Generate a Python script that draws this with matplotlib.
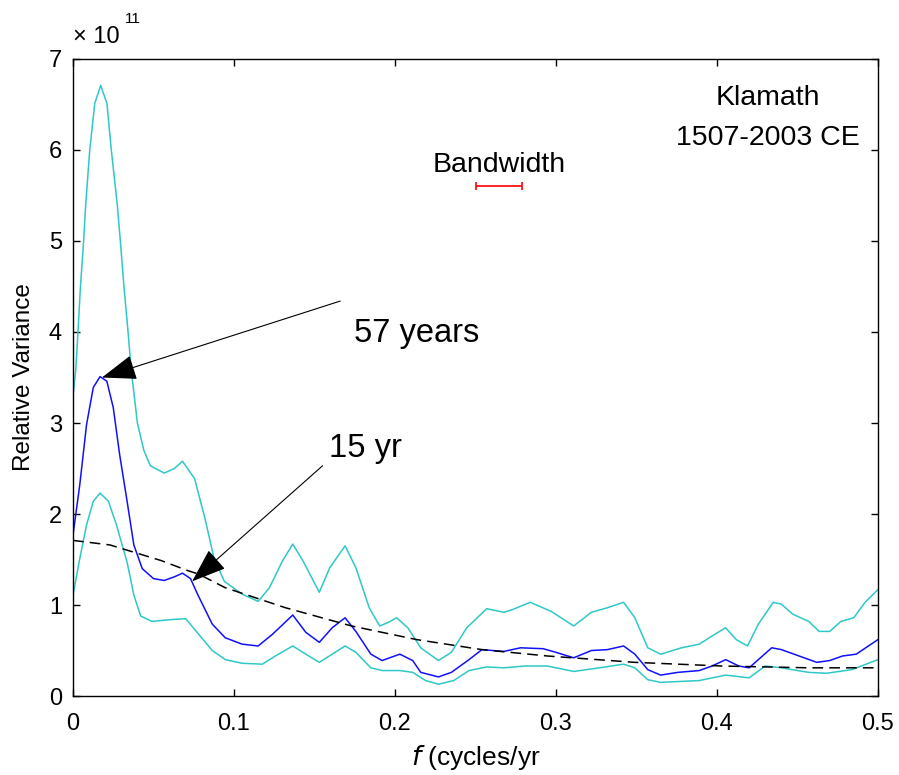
import numpy as np
import matplotlib
matplotlib.use("Agg")
import matplotlib.pyplot as plt

plt.rcParams['font.family'] = ['Liberation Sans', 'DejaVu Sans']

# Frequency (cycles/yr) and relative variance (units of 1e11)
f_upper = [0.000, 0.0017, 0.0031, 0.0046, 0.0066, 0.0079, 0.0104, 0.0135, 0.0172, 0.0211,
           0.0238, 0.0275, 0.0294, 0.0317, 0.0342, 0.0362, 0.040, 0.044, 0.048, 0.0567,
           0.063, 0.068, 0.0755, 0.082, 0.0875,
           0.094, 0.105, 0.115, 0.122, 0.130, 0.1365, 0.143, 0.153, 0.1595, 0.169,
           0.1757, 0.184, 0.1905, 0.196, 0.201, 0.208, 0.216, 0.227, 0.235, 0.2446,
           0.257, 0.2676, 0.273, 0.284, 0.297, 0.311, 0.322, 0.332, 0.342, 0.349,
           0.357, 0.365, 0.378, 0.389, 0.397, 0.4054, 0.412, 0.419, 0.4257, 0.435,
           0.440, 0.447, 0.457, 0.4635, 0.470, 0.477, 0.485, 0.492, 0.500]
v_upper = [3.30, 3.58, 4.0, 4.49, 5.0, 5.4, 6.0, 6.51, 6.71, 6.51,
           6.0, 5.4, 5.0, 4.49, 4.0, 3.58, 3.0, 2.70, 2.53, 2.45,
           2.50, 2.58, 2.39, 1.95, 1.52,
           1.26, 1.12, 1.04, 1.19, 1.48, 1.67, 1.48, 1.14, 1.41, 1.65,
           1.41, 0.97, 0.77, 0.81, 0.86, 0.75, 0.53, 0.39, 0.48, 0.75,
           0.96, 0.92, 0.95, 1.03, 0.93, 0.77, 0.92, 0.97, 1.03, 0.86,
           0.53, 0.46, 0.53, 0.57, 0.66, 0.75, 0.62, 0.55, 0.79, 1.03,
           1.01, 0.90, 0.82, 0.71, 0.71, 0.82, 0.86, 1.03, 1.17]

f_mid = [0.000, 0.0042, 0.0084, 0.0126, 0.0168, 0.021, 0.025, 0.029, 0.0336, 0.0378,
         0.043, 0.050, 0.0567, 0.063, 0.068, 0.073, 0.0776, 0.0865, 0.0946, 0.105,
         0.115, 0.124, 0.1365, 0.1446, 0.153, 0.161, 0.169, 0.1757, 0.185, 0.192,
         0.203, 0.211, 0.216, 0.227, 0.235, 0.246, 0.254, 0.2676, 0.278, 0.292,
         0.300, 0.311, 0.322, 0.332, 0.342, 0.349, 0.357, 0.365, 0.3757, 0.389,
         0.397, 0.4054, 0.4135, 0.420, 0.4257, 0.434, 0.440, 0.451, 0.462, 0.470,
         0.478, 0.4865, 0.500]
v_mid = [1.77, 2.32, 2.98, 3.39, 3.51, 3.46, 3.17, 2.65, 2.14, 1.66,
         1.40, 1.29, 1.27, 1.31, 1.35, 1.29, 1.11, 0.79, 0.64, 0.57,
         0.55, 0.68, 0.89, 0.70, 0.59, 0.75, 0.86, 0.71, 0.46, 0.39,
         0.46, 0.39, 0.26, 0.21, 0.26, 0.40, 0.51, 0.49, 0.53, 0.52,
         0.48, 0.42, 0.50, 0.51, 0.55, 0.46, 0.29, 0.23, 0.26, 0.28,
         0.33, 0.40, 0.33, 0.31, 0.40, 0.53, 0.51, 0.44, 0.37, 0.39,
         0.44, 0.46, 0.62]

f_lower = [0.000, 0.0042, 0.0084, 0.0126, 0.0168, 0.022, 0.027, 0.0336, 0.0378, 0.042,
           0.049, 0.061, 0.070, 0.078, 0.0865, 0.0946, 0.105, 0.1176, 0.1257, 0.1365,
           0.1446, 0.153, 0.161, 0.169, 0.1757, 0.185, 0.192, 0.203, 0.211, 0.219,
           0.227, 0.2365, 0.246, 0.257, 0.2676, 0.281, 0.2946, 0.311, 0.327, 0.342,
           0.349, 0.357, 0.365, 0.389, 0.4054, 0.420, 0.430, 0.440, 0.457, 0.468,
           0.4838, 0.500]
v_lower = [1.11, 1.51, 1.88, 2.14, 2.23, 2.14, 1.88, 1.47, 1.11, 0.88,
           0.82, 0.84, 0.85, 0.68, 0.50, 0.40, 0.36, 0.35, 0.44, 0.55,
           0.46, 0.37, 0.46, 0.55, 0.48, 0.31, 0.28, 0.28, 0.26, 0.17,
           0.13, 0.17, 0.28, 0.32, 0.31, 0.33, 0.33, 0.27, 0.31, 0.35,
           0.31, 0.18, 0.15, 0.17, 0.23, 0.20, 0.33, 0.31, 0.26, 0.25,
           0.29, 0.40]

f_null = [0.000, 0.023, 0.0545, 0.071, 0.078, 0.0946, 0.132, 0.173, 0.2135, 0.254,
          0.2946, 0.349, 0.4027, 0.457, 0.500]
v_null = [1.71, 1.66, 1.49, 1.38, 1.34, 1.19, 0.97, 0.77, 0.62, 0.51,
          0.44, 0.37, 0.33, 0.31, 0.31]

bw_center, bw_half, bw_level = 0.2646, 0.0143, 5.60

fig = plt.figure(figsize=(8.99, 7.75), dpi=100)
ax = fig.add_axes([0.0812, 0.1019, 0.8954, 0.822])

cyan = '#2ec8c8'
ax.plot(f_upper, v_upper, color=cyan, lw=1.1)
ax.plot(f_lower, v_lower, color=cyan, lw=1.1)
ax.plot(f_mid, v_mid, color='#1010ff', lw=1.1)
ax.plot(f_null, v_null, color='black', lw=1.1, ls=(0, (7, 4)))

# bandwidth bar
ax.errorbar([bw_center], [bw_level], xerr=[bw_half], color='red', lw=1.2,
            capsize=3, capthick=1.2, fmt='none')
ax.text(bw_center, 5.76, 'Bandwidth', ha='center', va='baseline', fontsize=20.5)

ax.text(0.4317, 6.49, 'Klamath', ha='center', va='baseline', fontsize=20.5)
ax.text(0.4317, 6.05, '1507-2003 CE', ha='center', va='baseline', fontsize=20.5)

arrow = dict(arrowstyle='-|>,head_length=1.1,head_width=0.4', color='black',
             lw=0.8, mutation_scale=20, shrinkA=0, shrinkB=0)
ax.annotate('', xy=(0.018, 3.50), xytext=(0.166, 4.34), arrowprops=arrow)
ax.annotate('', xy=(0.074, 1.26), xytext=(0.155, 2.53), arrowprops=arrow)
ax.text(0.1745, 3.89, '57 years', ha='left', va='baseline', fontsize=23.5)
ax.text(0.159, 2.63, '15 yr', ha='left', va='baseline', fontsize=23.5)

ax.set_xlim(0, 0.5)
ax.set_ylim(0, 7)
ax.set_xticks([0, 0.1, 0.2, 0.3, 0.4, 0.5])
ax.set_xticklabels(['0', '0.1', '0.2', '0.3', '0.4', '0.5'])
ax.set_yticks(range(8))
ax.tick_params(direction='in', length=5, width=1, top=True, right=True,
               labelsize=17)
ax.tick_params(axis='x', pad=12)
ax.tick_params(axis='y', pad=8)
for s in ax.spines.values():
    s.set_linewidth(1)

ax.set_xlabel('$f$ (cycles/yr', fontsize=19, labelpad=6)
ax.set_ylabel('Relative Variance', fontsize=17.5, labelpad=10)

# exponent label in the MATLAB style
ax.text(0.0, 1.018, '\u00d7 10', transform=ax.transAxes, ha='left',
        va='bottom', fontsize=17)
ax.text(0.065, 1.052, '11', transform=ax.transAxes, ha='left',
        va='bottom', fontsize=11)

fig.savefig('out.png', dpi=100)
